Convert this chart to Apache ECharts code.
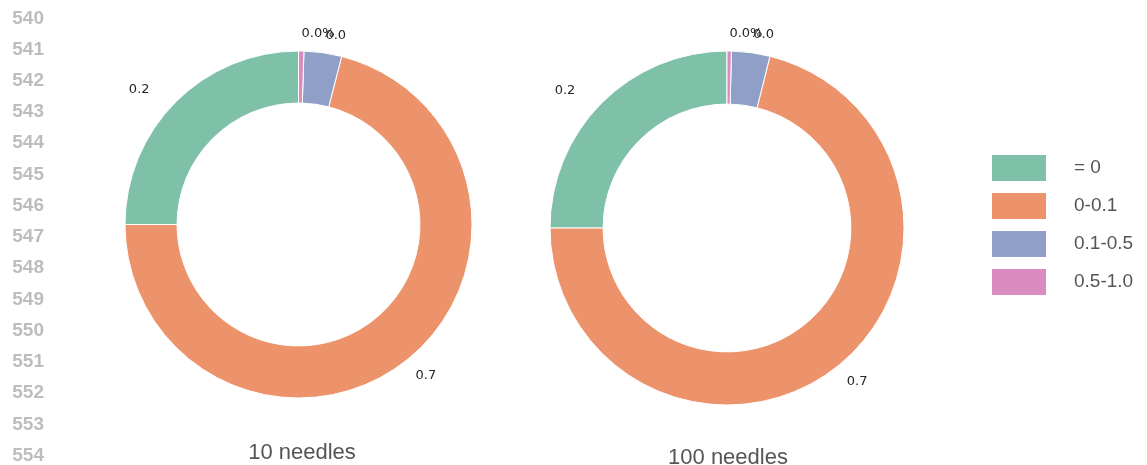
<!DOCTYPE html>
<html>
<head>
<meta charset="utf-8">
<script src="https://cdn.jsdelivr.net/npm/echarts@6/dist/echarts.min.js"></script>
<style>html,body{margin:0;padding:0;background:#fff;}#c{width:1147px;height:465px;}</style>
</head>
<body>
<div id="c"></div>
<script>
// ---- data ----
const categories = ['= 0', '0-0.1', '0.1-0.5', '0.5-1.0'];
const colors = ['#7fc0a8', '#ec936b', '#909fc8', '#da8cc0'];
const values10 = [0.25, 0.710, 0.035, 0.005];
const values100 = [0.25, 0.711, 0.035, 0.004];
const labels10 = ['0.2', '0.7', '0.0', '0.0%'];
const labels100 = ['0.2', '0.7', '0.0', '0.0%'];
const titles = ['10 needles', '100 needles'];
const gutterLines = ['540','541','542','543','544','545','546','547','548','549','550','551','552','553','554'];

function pieData(vals, labs) {
  return vals.map((v, i) => ({
    name: categories[i],
    value: v,
    itemStyle: { color: colors[i] },
    label: Object.assign({ formatter: labs[i] }, i === 0 ? { padding: [0, 14, 0, 0] } : {})
  }));
}

function pieSeries(center, r, vals, labs) {
  return {
    type: 'pie',
    center: center,
    radius: [r * 0.7, r],
    startAngle: 90,
    clockwise: false,
    avoidLabelOverlap: false,
    minShowLabelAngle: 0,
    silent: true,
    animation: false,
    itemStyle: { borderColor: '#ffffff', borderWidth: 1 },
    label: {
      show: true,
      position: 'outside',
      fontFamily: 'DejaVu Sans',
      fontSize: 13,
      color: '#262626',
      distanceToLabelLine: 0
    },
    labelLayout: { hideOverlap: false },
    labelLine: { show: false, length: r * 0.1, length2: 0 },
    emphasis: { disabled: true },
    data: pieData(vals, labs)
  };
}

const chart = echarts.init(document.getElementById('c'), null, { renderer: 'canvas' });
chart.setOption({
  animation: false,
  backgroundColor: '#ffffff',
  title: [
    { text: titles[0], left: 297, top: 437, textAlign: 'center',
      textStyle: { fontFamily: 'Liberation Sans', fontSize: 22, fontWeight: 'normal', color: '#555555' } },
    { text: titles[1], left: 723, top: 442, textAlign: 'center',
      textStyle: { fontFamily: 'Liberation Sans', fontSize: 22, fontWeight: 'normal', color: '#555555' } }
  ],
  legend: {
    orient: 'vertical',
    left: 985,
    top: 148,
    icon: 'rect',
    itemWidth: 56,
    itemHeight: 28,
    itemGap: 8,
    selectedMode: false,
    data: categories,
    textStyle: { fontFamily: 'Liberation Sans', fontSize: 19, lineHeight: 28, color: '#555555', padding: [0, 0, 0, 22] }
  },
  grid: { left: 52, top: 18.3, height: 443.4, width: 1 },
  xAxis: { type: 'value', show: false },
  yAxis: {
    type: 'category',
    inverse: true,
    boundaryGap: false,
    data: gutterLines,
    axisLine: { show: false },
    axisTick: { show: false },
    splitLine: { show: false },
    axisLabel: { interval: 0, margin: 8, fontFamily: 'Liberation Sans', fontSize: 19, fontWeight: 'bold', color: '#bdbdbd' }
  },
  series: [
    pieSeries([298.5, 224.5], 173.5, values10, labels10),
    pieSeries([727, 228], 177, values100, labels100)
  ]
});
</script>
</body>
</html>
